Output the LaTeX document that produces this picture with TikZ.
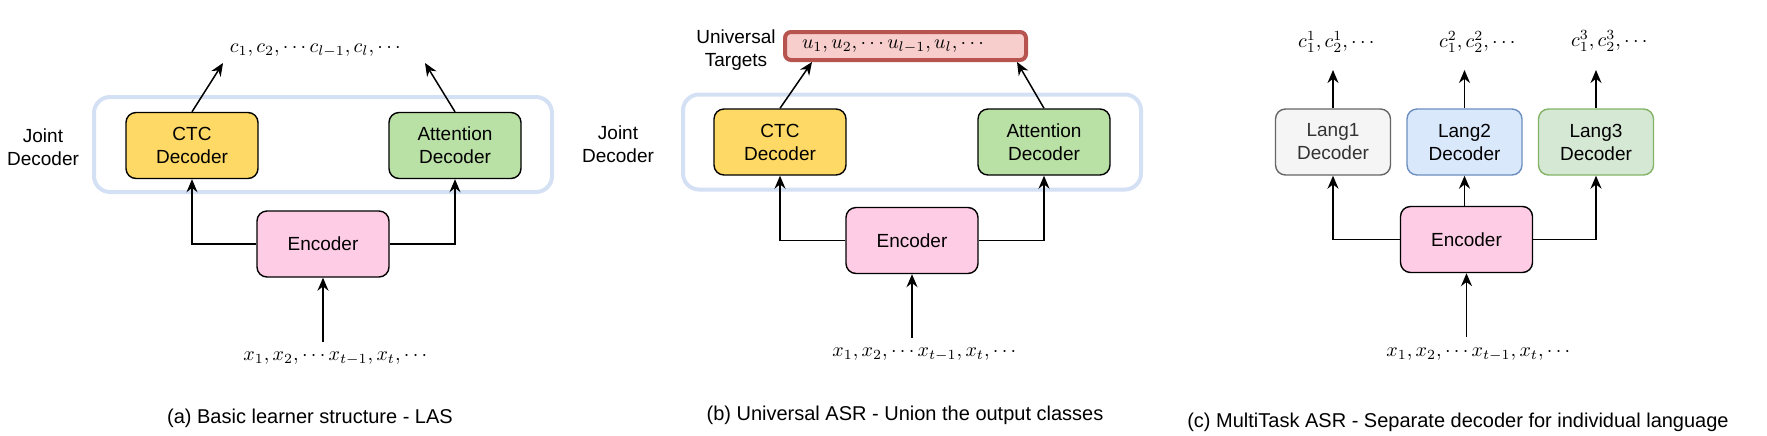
\documentclass[tikz,border=0pt]{standalone}
\usepackage{amsmath,amssymb}
\usepackage{fontspec}
\setmainfont{Liberation Sans}
\usepackage{xcolor}
\usepackage{tikz}
\usetikzlibrary{arrows.meta}

\definecolor{ctcyellow}{HTML}{FFD966}
\definecolor{attgreen}{HTML}{B9E0A5}
\definecolor{encpink}{HTML}{FFCCE6}
\definecolor{jointblue}{HTML}{D4E1F5}
\definecolor{unifill}{HTML}{F8CECC}
\definecolor{unidraw}{HTML}{B85450}
\definecolor{langgrayfill}{HTML}{F5F5F5}
\definecolor{langgraydraw}{HTML}{666666}
\definecolor{langgraytext}{HTML}{333333}
\definecolor{langbluefill}{HTML}{DAE8FC}
\definecolor{langbluedraw}{HTML}{6C8EBF}
\definecolor{langgreenfill}{HTML}{D5E8D4}
\definecolor{langgreendraw}{HTML}{82B366}

\begin{document}
\begin{tikzpicture}[x=0.5pt, y=-0.5pt,
        font=\fontsize{9.5}{11.5}\selectfont,
        box/.style={draw=black, rounded corners=5pt, line width=0.7pt, align=center,
            minimum width=66pt, minimum height=33pt, inner sep=0pt},
        langbox/.style={box, minimum width=57.5pt},
        joint/.style={draw=jointblue, line width=2pt, rounded corners=8pt,
            minimum width=229pt, minimum height=47.5pt},
        arr/.style={-{Stealth[length=6.5pt, width=5.5pt]}, line width=0.75pt},
        seq/.style={inner sep=0pt, font=\fontsize{10}{12}\selectfont},
        caption/.style={inner sep=0pt, font=\fontsize{10}{12}\selectfont}]
        \useasboundingbox (0, 0) rectangle (1767, 435);

        % (a) joint decoder
        \node[joint] (jointA) at (323, 144.5) {};
        \node[align=center] (jlabA) at (43, 147) {Joint\\Decoder};
        \node[box, fill=ctcyellow] (ctcA) at (192, 145.5) {CTC\\Decoder};
        \node[box, fill=attgreen] (attA) at (455, 145.5) {Attention\\Decoder};
        \node[box, fill=encpink] (encA) at (323, 244) {Encoder};
        \node[seq] (outA) at (317, 50) {$c_1, c_2, \cdots c_{l-1}, c_l, \cdots$};
        \node[seq] (inA) at (337, 358) {$x_1, x_2, \cdots x_{t-1}, x_t, \cdots$};
        \node[caption] (capA) at (310, 418) {(a) Basic learner structure - LAS};
        \coordinate (tipA1) at (223, 63);
        \coordinate (tipA2) at (425, 63);
        \coordinate (srcA) at (323, 342);
        \draw[arr] (ctcA.north) -- (tipA1);
        \draw[arr] (attA.north) -- (tipA2);
        \draw[arr] (encA.west) -| (ctcA.south);
        \draw[arr] (encA.east) -| (attA.south);
        \draw[arr] (srcA) -- (encA.south);

        % (b) universal targets
        \node[joint] (jointB) at (912, 142) {};
        \node[align=center] (jlabB) at (618, 144) {Joint\\Decoder};
        \node[align=center] (ulabB) at (736, 50) {Universal\\Targets};
        \node[draw=unidraw, fill=unifill, line width=2pt, rounded corners=3pt,
            text width=103.5pt, inner xsep=8.5pt, inner ysep=0pt, minimum height=14pt,
            align=left, font=\fontsize{10}{12}\selectfont] (uniB) at (905.5, 46)
            {$u_1, u_2, \cdots u_{l-1}, u_l, \cdots$};
        \node[box, fill=ctcyellow] (ctcB) at (780, 142) {CTC\\Decoder};
        \node[box, fill=attgreen] (attB) at (1044, 142) {Attention\\Decoder};
        \node[box, fill=encpink] (encB) at (912, 240.5) {Encoder};
        \node[seq] (inB) at (926, 354) {$x_1, x_2, \cdots x_{t-1}, x_t, \cdots$};
        \node[caption] (capB) at (905, 415) {(b) Universal ASR - Union the output classes};
        \coordinate (tipB1) at (812, 62);
        \coordinate (tipB2) at (1017, 62);
        \coordinate (srcB) at (912, 338);
        \draw[arr] (ctcB.north) -- (tipB1);
        \draw[arr] (attB.north) -- (tipB2);
        \draw[arr] (encB.west) -| (ctcB.south);
        \draw[arr] (encB.east) -| (attB.south);
        \draw[arr] (srcB) -- (encB.south);

        % (c) one decoder per language
        \node[langbox, draw=langgraydraw, fill=langgrayfill, text=langgraytext] (langC1) at (1333, 142) {Lang1\\Decoder};
        \node[langbox, draw=langbluedraw, fill=langbluefill] (langC2) at (1464.5, 142) {Lang2\\Decoder};
        \node[langbox, draw=langgreendraw, fill=langgreenfill] (langC3) at (1596, 142) {Lang3\\Decoder};
        \node[box, fill=encpink] (encC) at (1466.5, 239.5) {Encoder};
        \node[seq] (outC1) at (1338, 42) {$c^1_1, c^1_2, \cdots$};
        \node[seq] (outC2) at (1479, 42) {$c^2_1, c^2_2, \cdots$};
        \node[seq] (outC3) at (1611, 41) {$c^3_1, c^3_2, \cdots$};
        \node[seq] (inC) at (1480, 354) {$x_1, x_2, \cdots x_{t-1}, x_t, \cdots$};
        \node[caption] (capC) at (1458, 422) {(c) MultiTask ASR - Separate decoder for individual language};
        \coordinate (tipC1) at (1333, 70);
        \coordinate (tipC2) at (1464.5, 70);
        \coordinate (tipC3) at (1596, 70);
        \coordinate (srcC) at (1466.5, 337);
        \draw[arr] (langC1.north) -- (tipC1);
        \draw[arr] (langC2.north) -- (tipC2);
        \draw[arr] (langC3.north) -- (tipC3);
        \draw[arr] (encC.west) -| (langC1.south);
        \draw[arr] (encC.north -| langC2.south) -- (langC2.south);
        \draw[arr] (encC.east) -| (langC3.south);
        \draw[arr] (srcC) -- (encC.south);
    \end{tikzpicture}
\end{document}
